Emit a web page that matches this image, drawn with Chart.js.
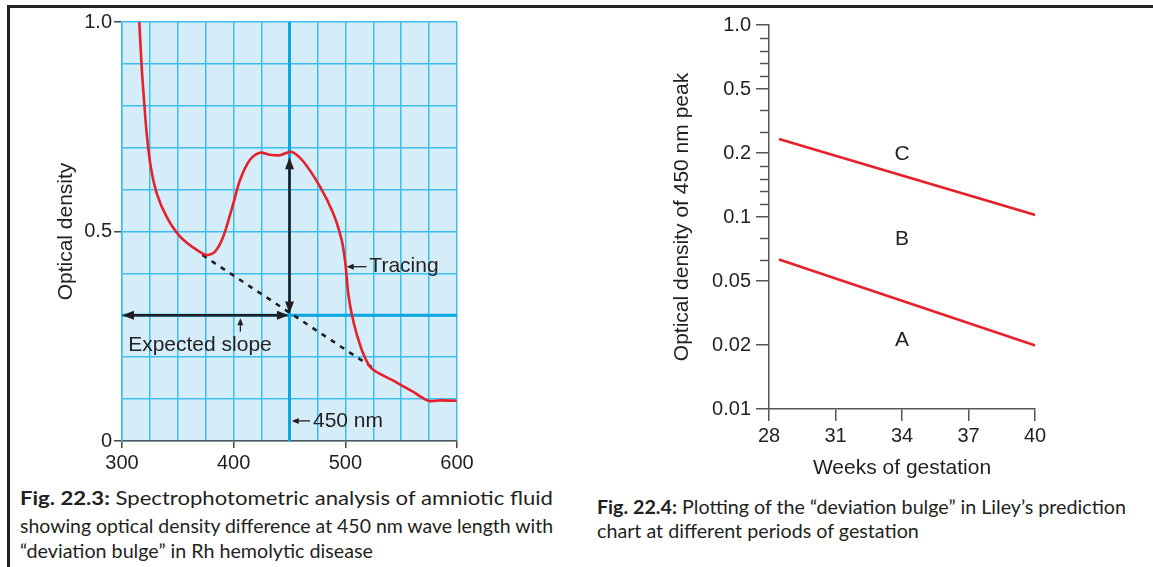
<!DOCTYPE html>
<html>
<head>
<meta charset="utf-8">
<script src="https://cdn.jsdelivr.net/npm/chart.js@4"></script>
<style>
  body { margin: 0; background: #fff; width: 1153px; height: 567px; overflow: hidden; position: relative; }
  canvas { position: absolute; }
  .frameTop { position: absolute; left: 7px; top: 5px; width: 1146px; height: 2.5px; background: #222; }
  .frameLeft { position: absolute; left: 7px; top: 5px; width: 2.5px; height: 562px; background: #222; }
  .cap { position: absolute; font-family: Lato, "Open Sans", sans-serif; font-size: 19.7px; color: #231f20; white-space: nowrap; line-height: 24px; }
  .fit { transform-origin: 0 50%; }
  .cap b { font-weight: 700; }
</style>
</head>
<body>
<div class="frameTop"></div>
<div class="frameLeft"></div>
<canvas id="spectro" width="480" height="475" style="left:0;top:0"></canvas>
<canvas id="liley" width="520" height="490" style="left:580px;top:0"></canvas>

<div class="cap fit" data-w="533" style="left:20px;top:486px"><b>Fig. 22.3:</b> Spectrophotometric analysis of amniotic fluid</div>
<div class="cap fit" data-w="533" style="left:20px;top:514px">showing optical density difference at 450 nm wave length with</div>
<div class="cap" style="left:20px;top:539px">“deviation bulge” in Rh hemolytic disease</div>
<div class="cap" style="left:597px;top:495px"><b>Fig. 22.4:</b> Plotting of the “deviation bulge” in Liley’s prediction</div>
<div class="cap" style="left:597px;top:519px">chart at different periods of gestation</div>

<script>
// ---- Fig 22.3 data (wavelength nm vs optical density)
const wavelength = [315.5, 317.6, 319.7, 322.1, 325.7, 331.1, 340, 352, 366.9, 375.8, 383.3, 390.7, 399.7, 405.7, 414.6, 423.6, 432.5, 441.5, 452, 462.4, 477.3, 489.2, 496.7, 499.7, 501.2, 502.6, 505.6, 510, 516, 523.6, 543, 560.9, 574.3, 584.8, 599.7];
const density = [1.0, 0.893, 0.814, 0.734, 0.655, 0.591, 0.535, 0.488, 0.456, 0.444, 0.452, 0.488, 0.567, 0.623, 0.671, 0.688, 0.683, 0.682, 0.69, 0.667, 0.607, 0.543, 0.48, 0.431, 0.392, 0.352, 0.305, 0.257, 0.209, 0.173, 0.144, 0.117, 0.096, 0.097, 0.096];
const slopeX = [372, 524];
const slopeY = [0.444, 0.176];
const xTickLabels = [300, 400, 500, 600];
const peakNm = 450;
const expectedOD = 0.3;
const peakOD = 0.677;

// ---- Fig 22.4 data (weeks of gestation vs OD at 450 nm)
const weeks = [28.45, 40.05];
const lineC = [0.266, 0.1027];
const lineA = [0.0668, 0.0199];
const yTickValues = [1.0, 0.5, 0.2, 0.1, 0.05, 0.02, 0.01];
const yTickLabels = ['1.0', '0.5', '0.2', '0.1', '0.05', '0.02', '0.01'];
const yMinorValues = [0.9, 0.8, 0.7, 0.6, 0.4, 0.3, 0.18, 0.16, 0.14, 0.12, 0.0833, 0.0667];
const zoneNames = ['C', 'B', 'A'];
const zoneWeek = [34, 34, 34];
const zoneOD = [0.198, 0.0826, 0.0222];

const ink = '#231f20';
const red = '#e8202a';
Chart.defaults.font.family = '"Liberation Sans", Arial, sans-serif';
Chart.defaults.color = ink;

// stretch/squeeze the justified caption lines to their printed width
document.querySelectorAll('.fit').forEach(el => {
  const w = el.getBoundingClientRect().width;
  el.style.transform = `scaleX(${Number(el.dataset.w) / w})`;
});

function near(v, t) { return Math.abs(v - t) < 1e-6; }

function drawArrow(ctx, x1, y1, x2, y2, opt) {
  // line from (x1,y1) to (x2,y2), head at end 2 (and at start if both)
  const head = opt.head, half = opt.half;
  const ang = Math.atan2(y2 - y1, x2 - x1);
  ctx.save();
  ctx.strokeStyle = ink;
  ctx.fillStyle = ink;
  ctx.lineWidth = opt.width;
  ctx.beginPath();
  ctx.moveTo(x1 + (opt.both ? Math.cos(ang) * head * 0.8 : 0), y1 + (opt.both ? Math.sin(ang) * head * 0.8 : 0));
  ctx.lineTo(x2 - Math.cos(ang) * head * 0.8, y2 - Math.sin(ang) * head * 0.8);
  ctx.stroke();
  const tip = (x, y, a) => {
    ctx.beginPath();
    ctx.moveTo(x, y);
    ctx.lineTo(x - Math.cos(a) * head - Math.sin(a) * half, y - Math.sin(a) * head + Math.cos(a) * half);
    ctx.lineTo(x - Math.cos(a) * head + Math.sin(a) * half, y - Math.sin(a) * head - Math.cos(a) * half);
    ctx.closePath();
    ctx.fill();
  };
  tip(x2, y2, ang);
  if (opt.both) tip(x1, y1, ang + Math.PI);
  ctx.restore();
}

const spectroDecor = {
  id: 'spectroDecor',
  beforeDraw(chart) {
    const a = chart.chartArea, ctx = chart.ctx;
    ctx.save();
    ctx.fillStyle = '#d5ecf9';
    ctx.fillRect(a.left, a.top, a.right - a.left, a.bottom - a.top);
    ctx.restore();
  },
  beforeDatasetsDraw(chart) {
    const a = chart.chartArea, ctx = chart.ctx;
    const x = chart.scales.x, y = chart.scales.y;
    ctx.save();
    ctx.strokeStyle = '#0ca6e2';
    ctx.lineWidth = 3;
    ctx.beginPath();
    ctx.moveTo(x.getPixelForValue(peakNm), a.top);
    ctx.lineTo(x.getPixelForValue(peakNm), a.bottom);
    ctx.moveTo(a.left, y.getPixelForValue(expectedOD));
    ctx.lineTo(a.right, y.getPixelForValue(expectedOD));
    ctx.stroke();
    ctx.restore();
  },
  afterDatasetsDraw(chart) {
    const ctx = chart.ctx;
    const x = chart.scales.x, y = chart.scales.y;
    const px = v => x.getPixelForValue(v), py = v => y.getPixelForValue(v);
    drawArrow(ctx, px(300), py(expectedOD), px(449.5), py(expectedOD), { head: 12, half: 4.5, width: 2.5, both: true });
    drawArrow(ctx, px(450), py(expectedOD + 0.004), px(450), py(peakOD), { head: 12, half: 4.5, width: 2.5, both: true });
    drawArrow(ctx, px(406), py(0.261), px(406), py(0.293), { head: 7, half: 3, width: 1.3 });
    drawArrow(ctx, px(519), py(0.416), px(501.2), py(0.416), { head: 7, half: 3, width: 1.3 });
    drawArrow(ctx, px(468.4), py(0.048), px(452), py(0.048), { head: 7, half: 3, width: 1.3 });
    ctx.save();
    ctx.fillStyle = ink;
    ctx.font = '21px "Liberation Sans", Arial, sans-serif';
    ctx.textBaseline = 'middle';
    ctx.textAlign = 'left';
    ctx.fillText('Tracing', px(521.5), py(0.416));
    ctx.fillText('450 nm', px(471), py(0.048));
    ctx.fillText('Expected slope', px(305.5), py(0.229));
    ctx.restore();
  }
};

new Chart(document.getElementById('spectro'), {
  type: 'line',
  data: {
    datasets: [
      {
        data: wavelength.map((w, i) => ({ x: w, y: density[i] })),
        borderColor: red,
        borderWidth: 2.6,
        pointRadius: 0,
        tension: 0.3
      },
      {
        data: slopeX.map((w, i) => ({ x: w, y: slopeY[i] })),
        borderColor: ink,
        borderWidth: 2.6,
        borderDash: [5, 6],
        pointRadius: 0
      }
    ]
  },
  options: {
    responsive: false,
    animation: false,
    events: [],
    layout: { padding: { left: 50, top: 22, right: 23, bottom: 0 } },
    plugins: { legend: { display: false }, tooltip: { enabled: false } },
    scales: {
      x: {
        type: 'linear',
        min: 300,
        max: 600,
        afterFit: s => { s.height = 34; },
        afterBuildTicks: s => { s.ticks = []; for (let v = 300; v <= 600; v += 25) s.ticks.push({ value: v }); },
        ticks: {
          autoSkip: false,
          maxRotation: 0,
          padding: 3,
          font: { size: 20 },
          callback: v => xTickLabels.includes(v) ? String(v) : ''
        },
        grid: {
          color: '#3cbff0',
          lineWidth: 1.5,
          tickLength: 7,
          tickWidth: 1.5,
          tickColor: c => (c.tick && xTickLabels.includes(c.tick.value)) ? '#444' : 'rgba(0,0,0,0)'
        },
        border: { color: '#555', width: 1.5 }
      },
      y: {
        min: 0,
        max: 1,
        afterFit: s => { s.width = 72; },
        afterBuildTicks: s => { s.ticks = []; for (let i = 0; i <= 10; i++) s.ticks.push({ value: i / 10 }); },
        ticks: {
          autoSkip: false,
          padding: 2,
          font: { size: 20 },
          callback: v => near(v, 0) ? '0' : near(v, 0.5) ? '0.5' : near(v, 1) ? '1.0' : ''
        },
        grid: {
          color: '#3cbff0',
          lineWidth: 1.5,
          tickLength: 8,
          tickWidth: 1.5,
          tickColor: c => (c.tick && (near(c.tick.value, 0) || near(c.tick.value, 0.5) || near(c.tick.value, 1))) ? '#444' : 'rgba(0,0,0,0)'
        },
        border: { color: '#3cbff0', width: 1.5 },
        title: { display: true, text: 'Optical density', font: { size: 21 }, padding: { top: 4, bottom: 0 } }
      }
    }
  },
  plugins: [spectroDecor]
});

// piecewise position of an OD value on the printed ladder 1.0, 0.5, 0.2 ...
function odPos(v) {
  for (let i = 0; i < yTickValues.length - 1; i++) {
    const hi = yTickValues[i], lo = yTickValues[i + 1];
    if (v <= hi && v >= lo) return i + (hi - v) / (hi - lo);
  }
  return v > yTickValues[0] ? 0 : yTickValues.length - 1;
}

const lileyDecor = {
  id: 'lileyDecor',
  afterDraw(chart) {
    const ctx = chart.ctx;
    const x = chart.scales.x, y = chart.scales.y;
    const left = chart.chartArea.left;
    ctx.save();
    ctx.strokeStyle = '#555';
    ctx.lineWidth = 1.5;
    ctx.beginPath();
    yMinorValues.forEach(v => {
      const yy = Math.round(y.getPixelForValue(odPos(v))) + 0.5;
      ctx.moveTo(left - 9, yy);
      ctx.lineTo(left, yy);
    });
    ctx.stroke();
    ctx.fillStyle = ink;
    ctx.font = '21px "Liberation Sans", Arial, sans-serif';
    ctx.textAlign = 'center';
    ctx.textBaseline = 'middle';
    zoneNames.forEach((n, i) => ctx.fillText(n, x.getPixelForValue(zoneWeek[i]), y.getPixelForValue(odPos(zoneOD[i]))));
    ctx.restore();
  }
};

new Chart(document.getElementById('liley'), {
  type: 'line',
  data: {
    datasets: [
      { data: weeks.map((w, i) => ({ x: w, y: odPos(lineC[i]) })), borderColor: red, borderWidth: 2.6, pointRadius: 0 },
      { data: weeks.map((w, i) => ({ x: w, y: odPos(lineA[i]) })), borderColor: red, borderWidth: 2.6, pointRadius: 0 }
    ]
  },
  options: {
    responsive: false,
    animation: false,
    events: [],
    layout: { padding: { left: 86, top: 25, right: 65, bottom: 5 } },
    plugins: { legend: { display: false }, tooltip: { enabled: false } },
    scales: {
      x: {
        type: 'linear',
        min: 28,
        max: 40,
        afterFit: s => { s.height = 76; },
        ticks: { stepSize: 3, padding: 3, maxRotation: 0, font: { size: 20 } },
        grid: { display: true, drawOnChartArea: false, tickLength: 12, color: '#555', lineWidth: 1.5 },
        border: { color: '#555', width: 1.5 },
        title: { display: true, text: 'Weeks of gestation', font: { size: 21 }, padding: { top: 4, bottom: 4 } }
      },
      y: {
        type: 'linear',
        min: 0,
        max: yTickValues.length - 1,
        reverse: true,
        afterFit: s => { s.width = 103; },
        ticks: { stepSize: 1, padding: 5, font: { size: 20 }, callback: v => yTickLabels[v] },
        grid: { display: true, drawOnChartArea: false, tickLength: 13, color: '#555', lineWidth: 1.5 },
        border: { color: '#555', width: 1.5 },
        title: { display: true, text: 'Optical density of 450 nm peak', font: { size: 21 }, padding: { top: 4, bottom: 0 } }
      }
    }
  },
  plugins: [lileyDecor]
});
</script>
</body>
</html>
